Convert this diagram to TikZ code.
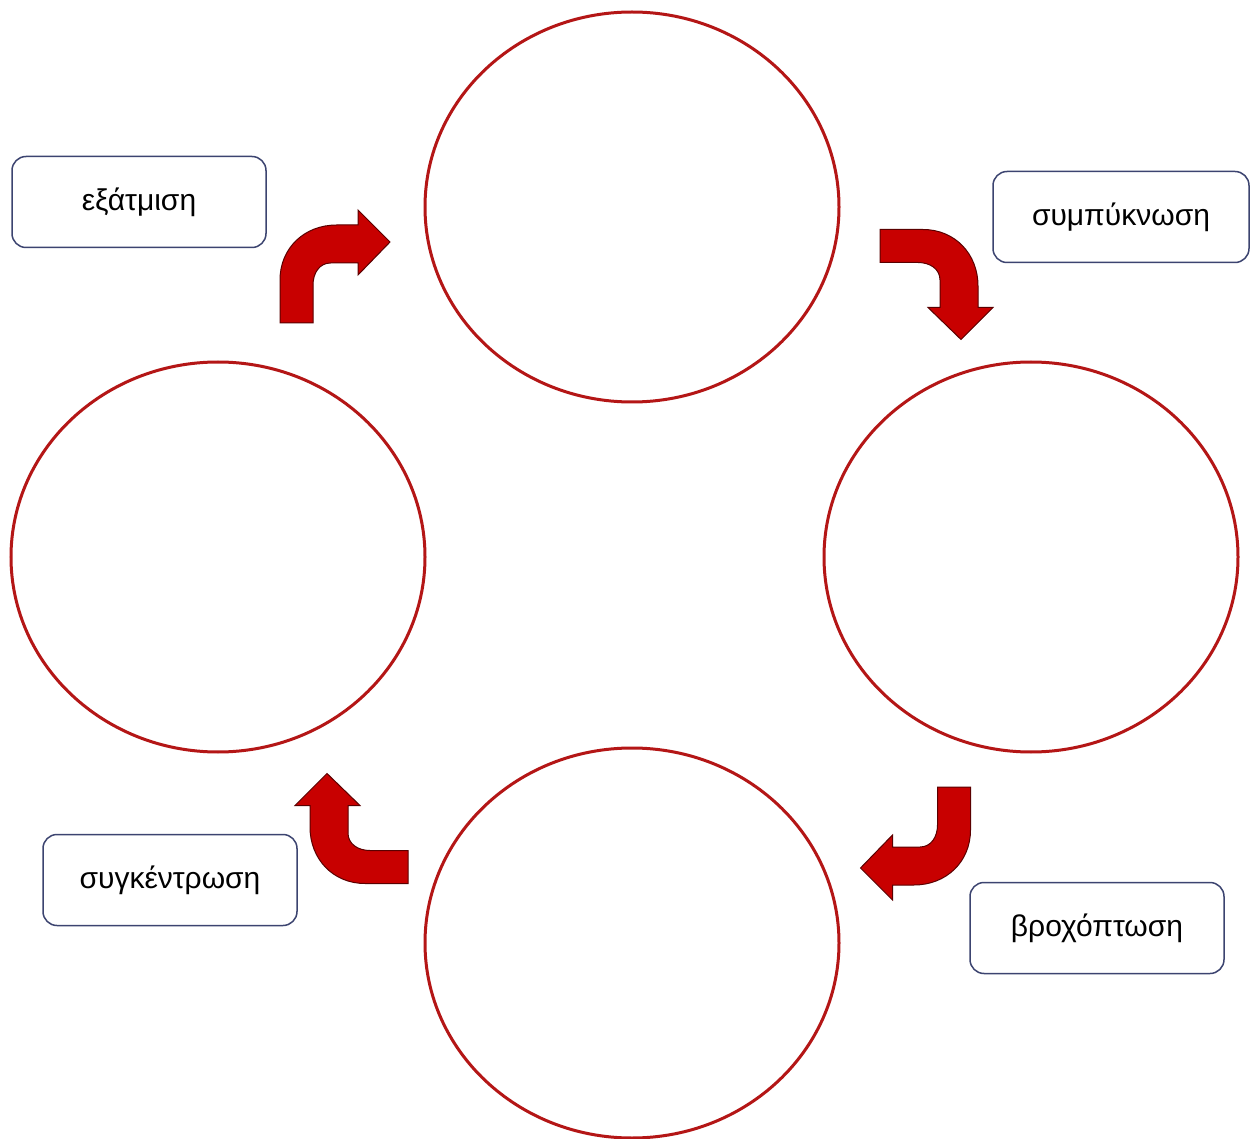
\documentclass[tikz,border=0pt]{standalone}
\usepackage{fontspec}
\setmainfont{Liberation Sans}
\definecolor{ringred}{RGB}{180,22,22}
\definecolor{arrowred}{RGB}{200,0,0}
\definecolor{arrowedge}{RGB}{90,0,0}
\definecolor{boxedge}{RGB}{60,68,112}
\tikzset{
  ring/.style={draw=ringred, line width=3pt, ellipse, minimum width=414pt, minimum height=390pt, inner sep=0pt},
  label box/.style={draw=boxedge, line width=1.5pt, rounded corners=14pt, minimum width=254pt, minimum height=91pt, inner sep=0pt, font=\fontsize{30}{36}\selectfont, fill=white},
  bent arrow/.style={fill=arrowred, draw=arrowedge, line width=1pt, line join=miter}
}
\newcommand{\bentarrowshape}{%
  \path[bent arrow] (-16.5,0) -- (-16.5,-43)
    .. controls (-16.5,-75) and (8,-98) .. (40,-98)
    -- (61.5,-98) -- (61.5,-113) -- (93.5,-81) -- (61.5,-48) -- (61.5,-60)
    -- (34,-60) .. controls (23,-60) and (16.5,-50) .. (16.5,-38)
    -- (16.5,0) -- cycle;}
\usetikzlibrary{shapes.geometric}
\begin{document}
\begin{tikzpicture}[x=1pt,y=-1pt]
\useasboundingbox (0,0) rectangle (1251,1139);
\fill[white] (0,0) rectangle (1251,1139);
% circles
\node[ring] (top) at (632,207) {};
\node[ring] (left) at (218,557) {};
\node[ring] (right) at (1031,557) {};
\node[ring] (bottom) at (632,943) {};
% labels
\node[label box] (evap) at (139,202) {εξάτμιση};
\node[label box, minimum width=256pt] (cond) at (1121,217) {συμπύκνωση};
\node[label box] (prec) at (1097,928) {βροχόπτωση};
\node[label box] (coll) at (170,880) {συγκέντρωση};
% bent arrows
\begin{scope}[shift={(296.5,323)}]\bentarrowshape\end{scope}
\begin{scope}[shift={(880,246)}, rotate=-90]\bentarrowshape\end{scope}
\begin{scope}[shift={(954,787)}, rotate=180]\bentarrowshape\end{scope}
\begin{scope}[shift={(408,867)}, rotate=90]\bentarrowshape\end{scope}
\end{tikzpicture}
\end{document}
